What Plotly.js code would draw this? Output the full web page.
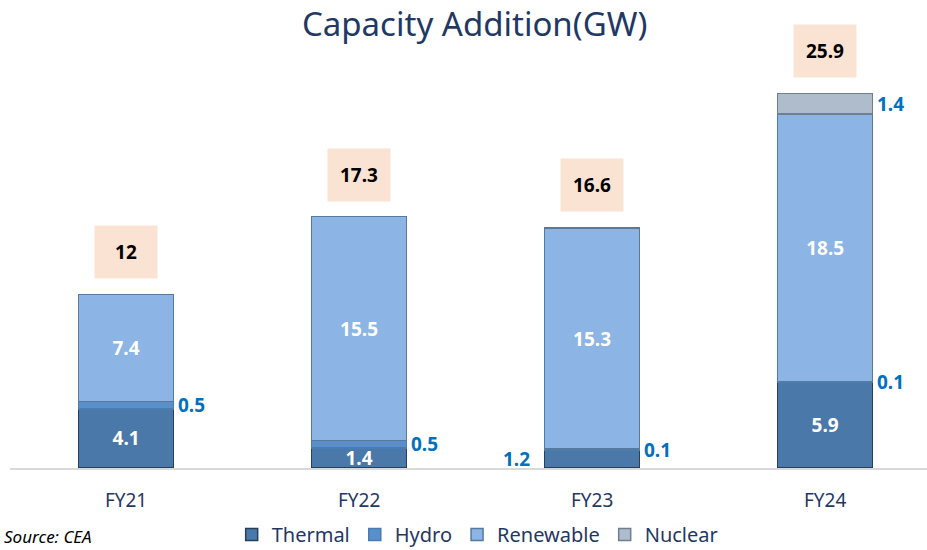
<!DOCTYPE html>
<html>
<head>
<meta charset="utf-8">
<script src="https://cdn.plot.ly/plotly-3.0.1.min.js"></script>
<style>html,body{margin:0;padding:0;background:#fff;}#chart{width:927px;height:550px;}</style>
</head>
<body>
<div id="chart"></div>
<script>
const categories = ['FY21', 'FY22', 'FY23', 'FY24'];
const thermal = [4.1, 1.4, 1.2, 5.9];
const hydro = [0.5, 0.5, 0.1, 0.1];
const renewable = [7.4, 15.5, 15.3, 18.5];
const nuclear = [null, null, null, 1.4];
const totals = [12, 17.3, 16.6, 25.9];
const thermalOutside = [false, false, true, false];

const FONT = '"Noto Sans", "Open Sans", sans-serif';
const WHITE_LBL = {family: FONT, size: 19, color: '#ffffff'};

function trace(name, y, color, lineColor, text) {
  return {
    type: 'bar', name: name, x: categories, y: y,
    marker: {color: color, line: {color: lineColor, width: 1.5}},
    text: text, textposition: text ? 'inside' : 'none',
    insidetextanchor: 'middle', textfont: WHITE_LBL,
    texttemplate: text ? '<b>%{text}</b>' : undefined,
    hoverinfo: 'skip', cliponaxis: false
  };
}

const data = [
  trace('Thermal', thermal, '#4a78a8', '#253f5c', thermal.map((v, i) => thermalOutside[i] ? '' : String(v))),
  trace('Hydro', hydro, '#5b8fc9', '#4a7cb4', null),
  trace('Renewable', renewable, '#8cb4e4', '#56799f', renewable.map(String)),
  trace('Nuclear', nuclear, '#aebccc', '#6f7f92', null)
];

const annotations = [];
const BLUE = '#0070c0';
const BLUE_LBL = {family: FONT, size: 19, color: BLUE};
categories.forEach((c, i) => {
  annotations.push({
    x: c, y: thermal[i] + hydro[i] / 2, xref: 'x', yref: 'y',
    text: '<b>' + hydro[i] + '</b>', showarrow: false,
    xanchor: 'left', xshift: 50, font: BLUE_LBL
  });
  if (nuclear[i] != null) {
    annotations.push({
      x: c, y: thermal[i] + hydro[i] + renewable[i] + nuclear[i] / 2, xref: 'x', yref: 'y',
      text: '<b>' + nuclear[i] + '</b>', showarrow: false,
      xanchor: 'left', xshift: 50, font: BLUE_LBL
    });
  }
  if (thermalOutside[i]) {
    annotations.push({
      x: c, y: thermal[i] / 2, xref: 'x', yref: 'y',
      text: '<b>' + thermal[i] + '</b>', showarrow: false,
      xanchor: 'right', xshift: -60, font: BLUE_LBL
    });
  }
  annotations.push({
    x: c, y: totals[i], xref: 'x', yref: 'y', yshift: 43,
    text: '<b>' + totals[i] + '</b>', showarrow: false,
    bgcolor: '#fbe3d4', width: 60, height: 50, valign: 'middle',
    font: {family: FONT, size: 19, color: '#000000'}
  });
});
annotations.push({
  x: 0, y: -0.122, xref: 'paper', yref: 'paper', xanchor: 'left', yanchor: 'top',
  xshift: -8, text: '<i>Source: CEA</i>', showarrow: false,
  font: {family: FONT, size: 17, color: '#000000'}
});

const layout = {
  width: 927, height: 550,
  margin: {l: 10, r: 0, t: 20, b: 82, autoexpand: false},
  paper_bgcolor: '#ffffff', plot_bgcolor: '#ffffff',
  barmode: 'stack', bargap: 0.592,
  title: {text: 'Capacity Addition(GW)', x: 0.512, xanchor: 'center', y: 0.955, yanchor: 'middle',
          font: {family: FONT, size: 33, color: '#1f3864'}},
  xaxis: {type: 'category', range: [-0.498, 3.437], showline: true, linecolor: '#d9d9d9', linewidth: 2,
          ticks: '', ticklabelstandoff: 14, tickfont: {family: FONT, size: 19, color: '#1f3864'},
          showgrid: false, zeroline: false, fixedrange: true, automargin: false},
  yaxis: {range: [0, 31.0], visible: false, showgrid: false, zeroline: false, fixedrange: true},
  showlegend: true,
  legend: {orientation: 'h', x: 0.51, xanchor: 'center', y: -0.105, yanchor: 'top',
           font: {family: FONT, size: 20, color: '#1f3864'}, traceorder: 'normal',
           itemwidth: 30, tracegroupgap: 0},
  uniformtext: {mode: 'show', minsize: 19},
  annotations: annotations
};

Plotly.newPlot('chart', data, layout, {displayModeBar: false, staticPlot: true});
</script>
</body>
</html>
